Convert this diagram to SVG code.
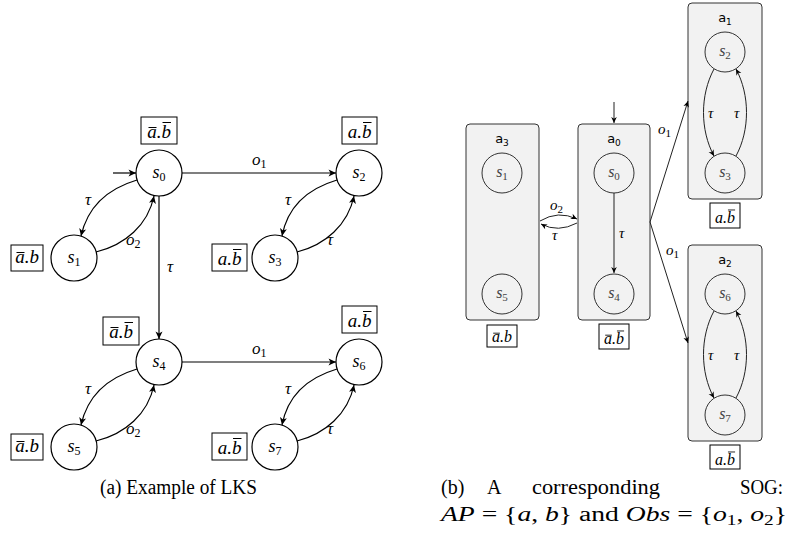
<svg xmlns="http://www.w3.org/2000/svg" width="792" height="539" viewBox="0 0 792 539">
<defs>
<style>
.n{fill:#fff;stroke:#000;stroke-width:1.2}
.e{fill:none;stroke:#000;stroke-width:1.2;marker-end:url(#ah)}
.e2{fill:none;stroke:#222;stroke-width:1;marker-end:url(#ah2)}
.lb{fill:#fff;stroke:#000;stroke-width:1}
.ol{fill:none;stroke:#000;stroke-width:1}
.lt{font-style:italic;font-size:19px;text-anchor:middle;fill:#000}
.st{font-style:italic;font-size:18px;text-anchor:middle;fill:#000}
.st2{font-style:italic;font-size:16px;text-anchor:middle;fill:#444}
.sub{font-style:normal;font-size:12px}
.sub2{font-style:normal;font-size:11px}
.el{font-style:italic;font-size:17px;fill:#000}
.el2{font-style:italic;font-size:15px;fill:#000}
.grp{fill:#f2f2f2;stroke:#333;stroke-width:1}
.n2{fill:none;stroke:#333;stroke-width:1}
.gl{font-size:13px;text-anchor:middle;fill:#000}
.cap{font-size:20px;fill:#000}
</style>
<marker id="ah" viewBox="-8 -4 9 8" refX="0" refY="0" markerWidth="9" markerHeight="8" orient="auto" markerUnits="userSpaceOnUse"><path d="M0,0 L-7.5,-3.5 L-5.5,0 L-7.5,3.5 Z" fill="#000"/></marker>
<marker id="ah2" viewBox="-8 -4 9 8" refX="0" refY="0" markerWidth="8" markerHeight="7" orient="auto" markerUnits="userSpaceOnUse"><path d="M0,0 L-7,-3.2 L-5,0 L-7,3.2 Z" fill="#000"/></marker>
</defs>

<g font-family="Liberation Serif, DejaVu Serif, serif">
<!-- ===== Left: LKS ===== -->
<g id="lks-edges">
<path class="e" d="M113,173 L136,173"/>
<path class="e" d="M182,173 L336,173"/>
<path class="e" d="M159,196 L159,339"/>
<path class="e" d="M137,180 C110,188 88,205 81,236"/>
<path class="e" d="M96,252 C125,245 148,225 154,196"/>
<path class="e" d="M337,180 C310,188 288,205 282,236"/>
<path class="e" d="M297,252 C325,245 348,225 354,196"/>
<path class="e" d="M182,362 L336,362"/>
<path class="e" d="M137,369 C110,377 88,394 81,425"/>
<path class="e" d="M96,441 C125,434 148,414 154,385"/>
<path class="e" d="M337,369 C310,377 288,394 282,425"/>
<path class="e" d="M297,441 C325,434 348,414 354,385"/>
<text class="el" x="252" y="165">o<tspan class="sub" dy="3">1</tspan></text>
<text class="el" x="167" y="272">τ</text>
<text class="el" x="85" y="205">τ</text>
<text class="el" x="126" y="245">o<tspan class="sub" dy="3">2</tspan></text>
<text class="el" x="285" y="205">τ</text>
<text class="el" x="327" y="245">τ</text>
<text class="el" x="252" y="354">o<tspan class="sub" dy="3">1</tspan></text>
<text class="el" x="85" y="394">τ</text>
<text class="el" x="126" y="434">o<tspan class="sub" dy="3">2</tspan></text>
<text class="el" x="285" y="394">τ</text>
<text class="el" x="327" y="434">τ</text>
</g>

<g id="s0"><circle class="n" cx="159" cy="173" r="23"/><text class="st" x="159" y="178">s<tspan class="sub" dy="3">0</tspan></text>
<rect class="lb" x="141" y="117" width="36" height="27"/><g transform="translate(159,138)"><text class="lt">a.b</text><path class="ol" d="M-10.5,-10.5h8M3.5,-15.5h8.5"/></g></g>
<g id="s1"><circle class="n" cx="74" cy="258" r="23"/><text class="st" x="74" y="263">s<tspan class="sub" dy="3">1</tspan></text>
<rect class="lb" x="11" y="245" width="32" height="26"/><g transform="translate(27,263)"><text class="lt">a.b</text><path class="ol" d="M-10.5,-10.5h8"/></g></g>
<g id="s2"><circle class="n" cx="359" cy="173" r="23"/><text class="st" x="359" y="178">s<tspan class="sub" dy="3">2</tspan></text>
<rect class="lb" x="342" y="117" width="35" height="27"/><g transform="translate(359.5,138)"><text class="lt">a.b</text><path class="ol" d="M3.5,-15.5h8.5"/></g></g>
<g id="s3"><circle class="n" cx="275" cy="258" r="23"/><text class="st" x="275" y="263">s<tspan class="sub" dy="3">3</tspan></text>
<rect class="lb" x="212" y="244" width="35" height="27"/><g transform="translate(229.5,265)"><text class="lt">a.b</text><path class="ol" d="M3.5,-15.5h8.5"/></g></g>
<g id="s4"><circle class="n" cx="159" cy="362" r="23"/><text class="st" x="159" y="367">s<tspan class="sub" dy="3">4</tspan></text>
<rect class="lb" x="103" y="317" width="36" height="28"/><g transform="translate(121,338)"><text class="lt">a.b</text><path class="ol" d="M-10.5,-10.5h8M3.5,-15.5h8.5"/></g></g>
<g id="s5"><circle class="n" cx="74" cy="447" r="23"/><text class="st" x="74" y="452">s<tspan class="sub" dy="3">5</tspan></text>
<rect class="lb" x="11" y="434" width="32" height="26"/><g transform="translate(27,452)"><text class="lt">a.b</text><path class="ol" d="M-10.5,-10.5h8"/></g></g>
<g id="s6"><circle class="n" cx="359" cy="362" r="23"/><text class="st" x="359" y="367">s<tspan class="sub" dy="3">6</tspan></text>
<rect class="lb" x="342" y="306" width="35" height="27"/><g transform="translate(359.5,327)"><text class="lt">a.b</text><path class="ol" d="M3.5,-15.5h8.5"/></g></g>
<g id="s7"><circle class="n" cx="275" cy="447" r="23"/><text class="st" x="275" y="452">s<tspan class="sub" dy="3">7</tspan></text>
<rect class="lb" x="212" y="433" width="35" height="27"/><g transform="translate(229.5,454)"><text class="lt">a.b</text><path class="ol" d="M3.5,-15.5h8.5"/></g></g>

<!-- ===== Right: SOG ===== -->
<g id="a3"><rect class="grp" x="466" y="124" width="73" height="196" rx="4"/>
<text class="gl" x="502" y="143" font-family="DejaVu Sans, sans-serif">a<tspan font-size="9" dy="3">3</tspan></text>
<circle class="n2" cx="502" cy="173" r="20"/><text class="st2" x="502" y="177">s<tspan class="sub2" dy="3">1</tspan></text>
<circle class="n2" cx="502" cy="294" r="20"/><text class="st2" x="502" y="298">s<tspan class="sub2" dy="3">5</tspan></text>
<rect class="lb" x="487" y="325" width="30" height="22"/><g transform="translate(502,342) scale(0.84)"><text class="lt">a.b</text><path class="ol" d="M-10.5,-10.5h8"/></g></g>

<g id="a0"><rect class="grp" x="578" y="124" width="72" height="196" rx="4"/>
<text class="gl" x="614" y="143" font-family="DejaVu Sans, sans-serif">a<tspan font-size="9" dy="3">0</tspan></text>
<circle class="n2" cx="614" cy="173" r="20"/><text class="st2" x="614" y="177">s<tspan class="sub2" dy="3">0</tspan></text>
<circle class="n2" cx="614" cy="294" r="20"/><text class="st2" x="614" y="298">s<tspan class="sub2" dy="3">4</tspan></text>
<rect class="lb" x="599" y="324" width="30" height="25"/><g transform="translate(614,344) scale(0.84)"><text class="lt">a.b</text><path class="ol" d="M-10.5,-10.5h8M3.5,-15.5h8.5"/></g></g>

<g id="a1"><rect class="grp" x="688" y="3" width="74" height="196" rx="4"/>
<text class="gl" x="725" y="22" font-family="DejaVu Sans, sans-serif">a<tspan font-size="9" dy="3">1</tspan></text>
<circle class="n2" cx="725" cy="52" r="20"/><text class="st2" x="725" y="56">s<tspan class="sub2" dy="3">2</tspan></text>
<circle class="n2" cx="725" cy="173" r="20"/><text class="st2" x="725" y="177">s<tspan class="sub2" dy="3">3</tspan></text>
<rect class="lb" x="710" y="203" width="30" height="25"/><g transform="translate(725,223) scale(0.84)"><text class="lt">a.b</text><path class="ol" d="M3.5,-15.5h8.5"/></g></g>

<g id="a2"><rect class="grp" x="688" y="245" width="74" height="196" rx="4"/>
<text class="gl" x="725" y="264" font-family="DejaVu Sans, sans-serif">a<tspan font-size="9" dy="3">2</tspan></text>
<circle class="n2" cx="725" cy="294" r="20"/><text class="st2" x="725" y="298">s<tspan class="sub2" dy="3">6</tspan></text>
<circle class="n2" cx="725" cy="415" r="20"/><text class="st2" x="725" y="419">s<tspan class="sub2" dy="3">7</tspan></text>
<rect class="lb" x="710" y="445" width="30" height="24"/><g transform="translate(725,465) scale(0.84)"><text class="lt">a.b</text><path class="ol" d="M3.5,-15.5h8.5"/></g></g>

<g id="sog-edges">
<path class="e2" d="M614,102 L614,123"/>
<path class="e2" d="M614,193 L614,273"/>
<path class="e2" d="M540,221 Q558,210 577,219"/>
<path class="e2" d="M577,223 Q558,233 541,224"/>
<path class="e2" d="M650,222 L688,101"/>
<path class="e2" d="M650,222 L688,343"/>
<path class="e2" d="M714,69 C700,95 700,130 714,156"/>
<path class="e2" d="M736,156 C750,130 750,95 736,69"/>
<path class="e2" d="M714,311 C700,337 700,372 714,398"/>
<path class="e2" d="M736,398 C750,372 750,337 736,311"/>
<text class="el2" x="619" y="238">τ</text>
<text class="el2" x="550" y="210">o<tspan class="sub2" dy="3">2</tspan></text>
<text class="el2" x="552" y="240">τ</text>
<text class="el2" x="658" y="134">o<tspan class="sub2" dy="3">1</tspan></text>
<text class="el2" x="666" y="255">o<tspan class="sub2" dy="3">1</tspan></text>
<text class="el2" x="708" y="118">τ</text>
<text class="el2" x="734" y="118">τ</text>
<text class="el2" x="708" y="360">τ</text>
<text class="el2" x="734" y="360">τ</text>
</g>

<!-- ===== Captions ===== -->
<g id="captions">
<text class="cap" x="100" y="494" textLength="157" lengthAdjust="spacingAndGlyphs">(a) Example of LKS</text>
<text class="cap" x="441" y="494">(b)</text>
<text class="cap" x="487" y="494">A</text>
<text class="cap" x="532" y="494" textLength="128" lengthAdjust="spacingAndGlyphs">corresponding</text>
<text class="cap" x="740" y="494" textLength="43" lengthAdjust="spacingAndGlyphs">SOG:</text>
<text class="cap" x="441" y="521" textLength="346" lengthAdjust="spacingAndGlyphs"><tspan font-style="italic">AP</tspan> = {<tspan font-style="italic">a</tspan>, <tspan font-style="italic">b</tspan>} and <tspan font-style="italic">Obs</tspan> = {<tspan font-style="italic">o</tspan><tspan font-size="14" dy="4">1</tspan><tspan dy="-4">, </tspan><tspan font-style="italic">o</tspan><tspan font-size="14" dy="4">2</tspan><tspan dy="-4">}</tspan></text>
</g>
</g>
</svg>
